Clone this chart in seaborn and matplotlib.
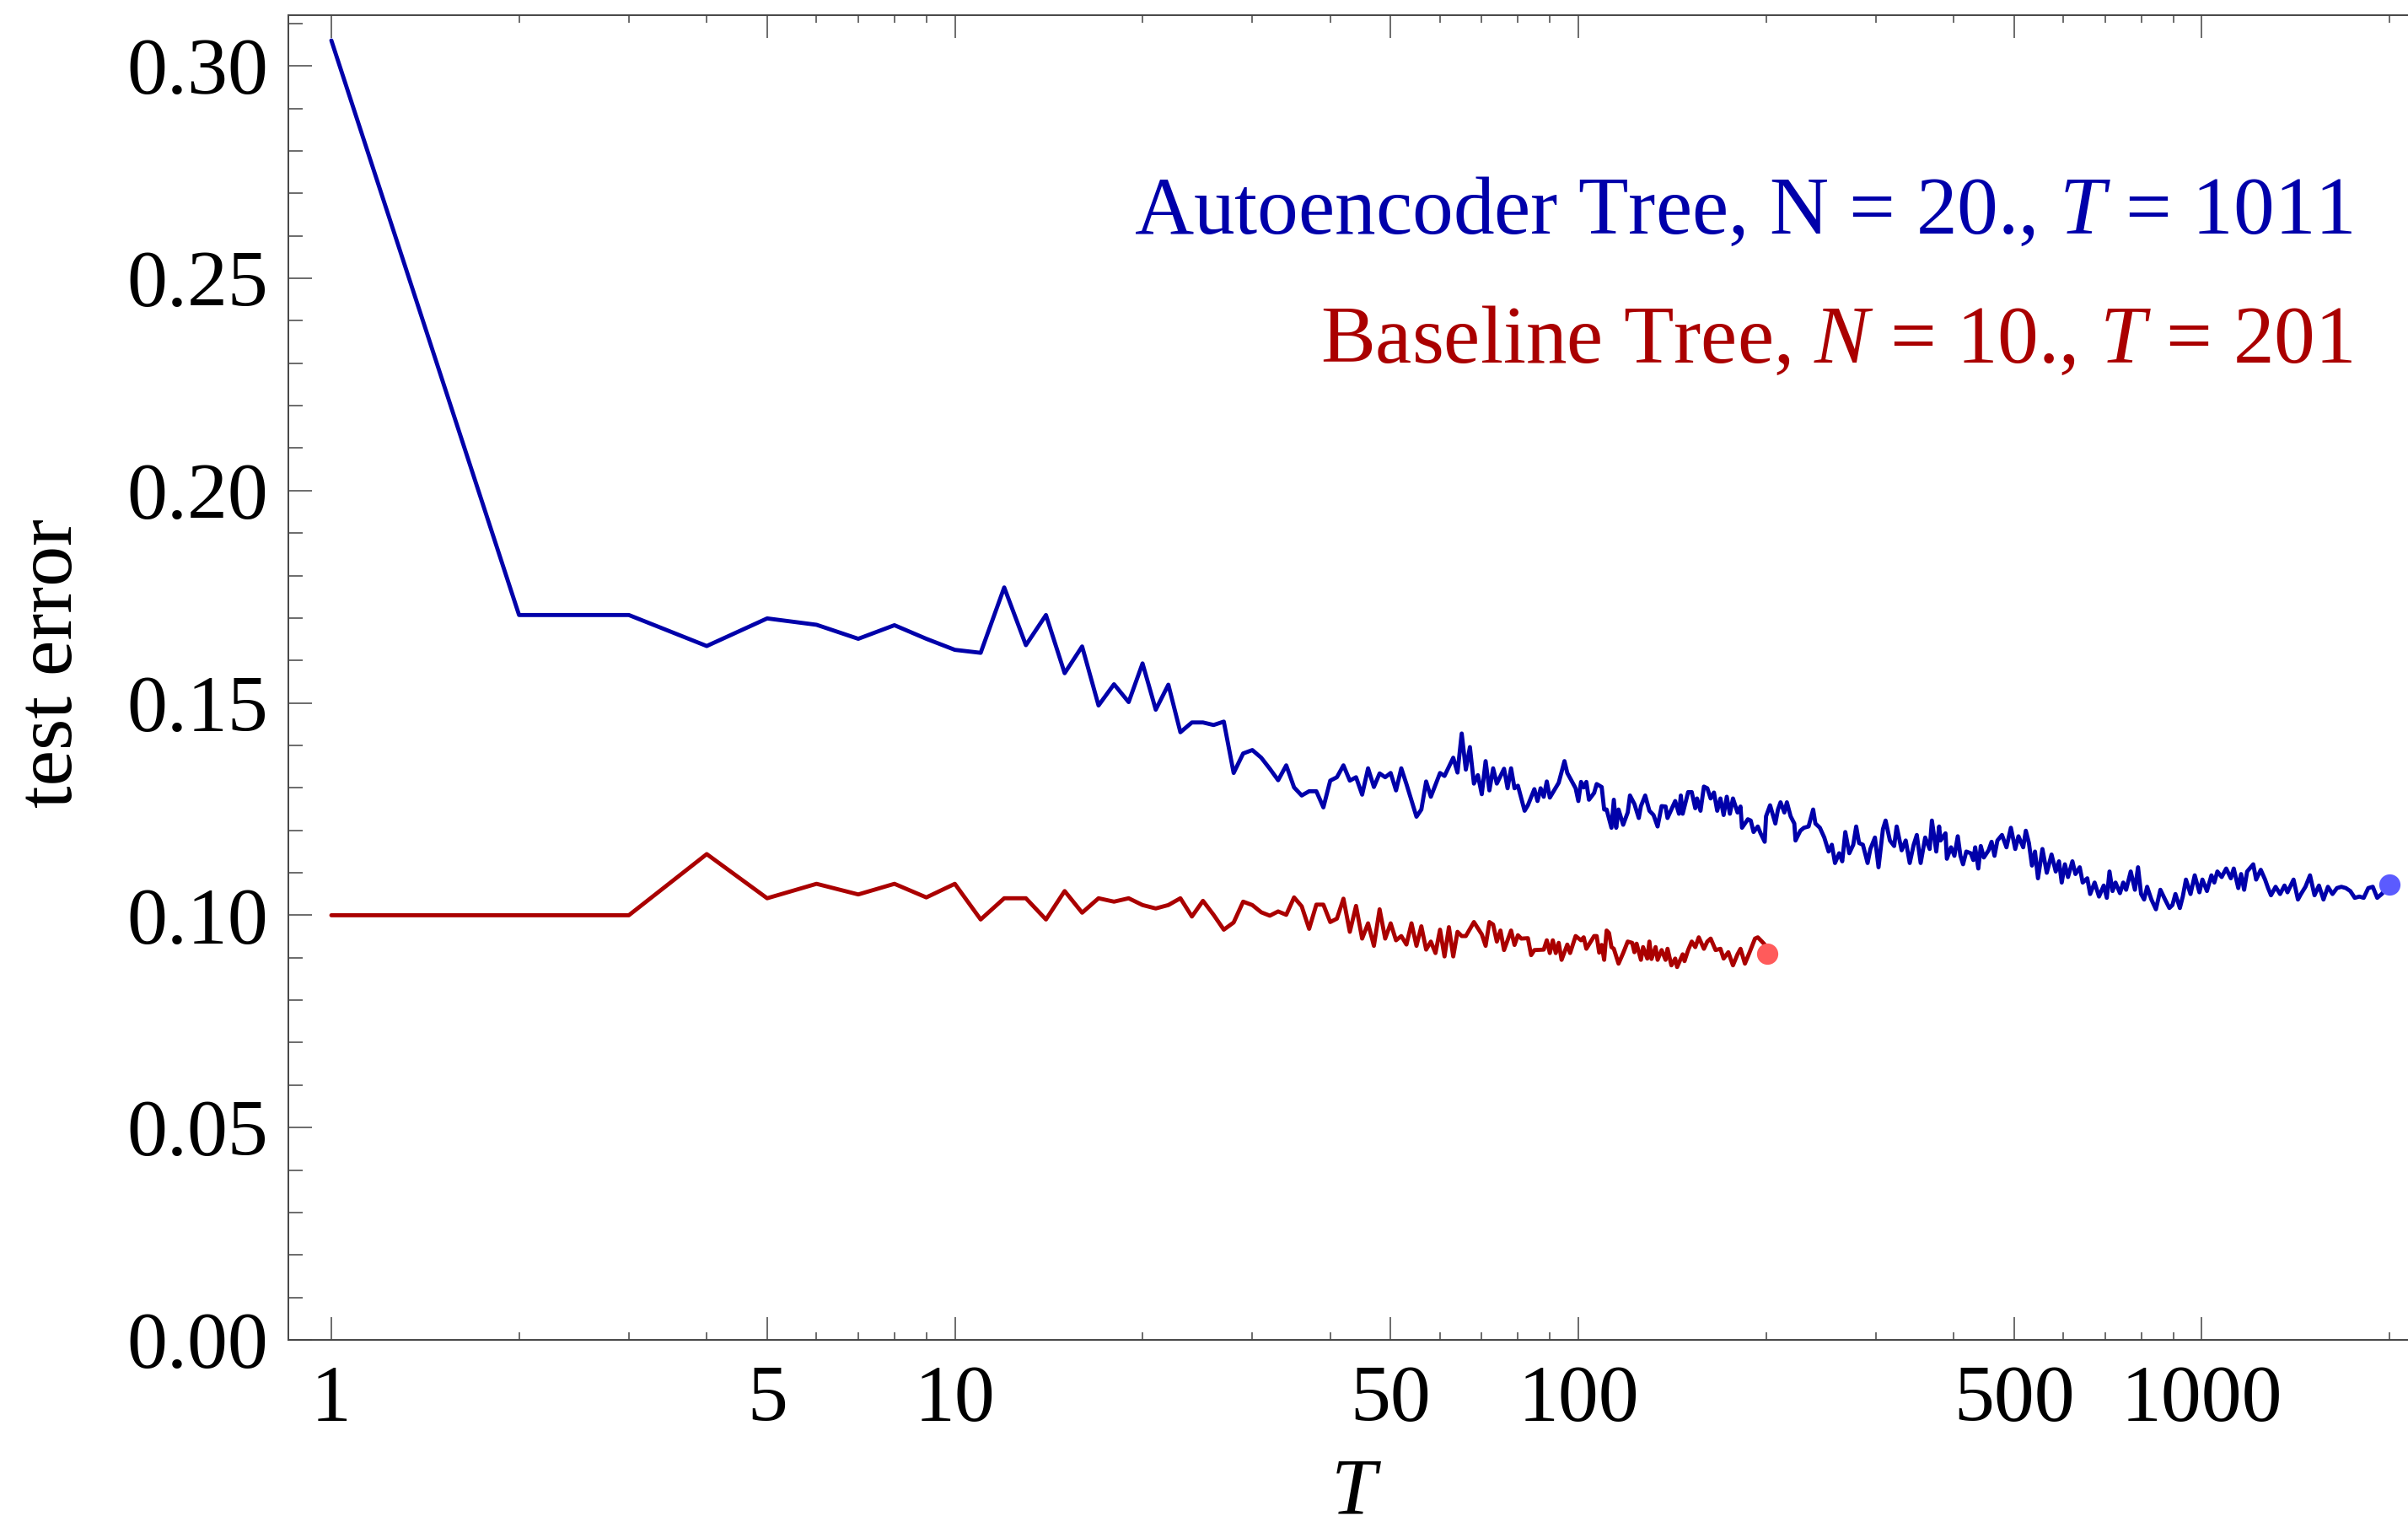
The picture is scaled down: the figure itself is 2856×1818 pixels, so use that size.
import numpy as np
import pandas as pd
import matplotlib
matplotlib.use("Agg")
import matplotlib.pyplot as plt
from matplotlib.ticker import FixedLocator, FixedFormatter
import seaborn as sns

# ---- data -------------------------------------------------------------
auto_T = [1, 2, 3, 4, 5, 6, 7, 8, 9, 10, 11, 12, 13, 14, 15, 16, 17, 18, 19, 20,
          21, 22, 23, 24, 25, 26, 27, 28, 29, 30, 31, 32, 33, 34, 35, 36, 37, 38, 39, 40,
          41, 42, 43, 44, 45, 46, 47, 48, 49, 50, 51, 52, 53, 55, 56, 57, 58, 60, 61, 63,
          64, 65, 66, 67, 68, 69, 70, 71, 72, 73, 74, 76, 77, 78, 79, 80, 82, 83, 85, 86,
          87, 88, 89, 90, 93, 95, 96, 99, 100, 101, 102, 103, 104, 106, 107, 109, 110,
          111, 113, 114, 115, 116, 118, 120, 121, 123, 125, 126, 128, 130, 132, 134, 136,
          138, 139, 141, 143, 145, 146, 147, 150, 152, 154, 155, 157, 159, 161, 163, 165,
          167, 169, 171, 173, 175, 177, 180, 182, 183, 187, 189, 191, 194, 196, 199, 200,
          203, 207, 209, 211, 214, 216, 219, 222, 223, 227, 230, 234, 238, 240, 244, 248,
          252, 255, 258, 262, 265, 268, 272, 276, 279, 282, 286, 291, 294, 299, 303, 308,
          311, 316, 321, 324, 330, 335, 340, 345, 349, 354, 360, 366, 369, 375, 379,
          381, 388, 390, 396, 401, 406, 410, 414, 419, 426, 430, 433, 438, 442, 447, 455,
          460, 465, 470, 478, 486, 494, 502, 508, 517, 522, 528, 534, 540, 546, 555, 564,
          574, 583, 590, 596, 603, 610, 620, 627, 637, 644, 655, 662, 673, 684, 696, 704,
          711, 719, 727, 739, 748, 756, 769, 781, 790, 799, 808, 817, 830, 844, 858, 873,
          887, 897, 907, 922, 932, 943, 959, 974, 991, 1002, 1019, 1036, 1047, 1059, 1076,
          1094, 1113, 1125, 1144, 1156, 1169, 1182, 1209, 1222, 1243, 1263, 1277, 1291,
          1313, 1335, 1357, 1372, 1403, 1426, 1442, 1466, 1491, 1516, 1541, 1567, 1593,
          1620, 1647, 1674, 1702, 1730, 1759, 1789, 1818, 1849, 1880, 1911, 1943, 2000]
auto_err = [0.3060, 0.1707, 0.1707, 0.1634, 0.1699, 0.1684, 0.1651, 0.1683, 0.1651, 0.1625,
            0.1618, 0.1772, 0.1636, 0.1707, 0.1570, 0.1633, 0.1494, 0.1544, 0.1502, 0.1593,
            0.1484, 0.1543, 0.1431, 0.1454, 0.1454, 0.1448, 0.1456, 0.1335, 0.1381, 0.1389,
            0.1371, 0.1345, 0.1318, 0.1353, 0.1301, 0.1282, 0.1292, 0.1292, 0.1254, 0.1317,
            0.1325, 0.1353, 0.1317, 0.1325, 0.1284, 0.1346, 0.1302, 0.1334, 0.1325, 0.1335,
            0.1294, 0.1346, 0.1309, 0.1232, 0.1249, 0.1315, 0.1279, 0.1335, 0.1328, 0.1371,
            0.1336, 0.1428, 0.1343, 0.1396, 0.1310, 0.1330, 0.1285, 0.1363, 0.1294, 0.1346,
            0.1310, 0.1345, 0.1299, 0.1346, 0.1299, 0.1305, 0.1246, 0.1259, 0.1297, 0.1269,
            0.1299, 0.1279, 0.1315, 0.1277, 0.1312, 0.1363, 0.1335, 0.1299, 0.1269, 0.1314,
            0.1301, 0.1314, 0.1272, 0.1288, 0.1309, 0.1302, 0.1249,
            0.1249, 0.1206, 0.1272, 0.1206, 0.1249, 0.1213, 0.1242, 0.1282, 0.1262, 0.1229,
            0.1257, 0.1282, 0.1246, 0.1236, 0.1209, 0.1257, 0.1256, 0.1229, 0.1249, 0.1269,
            0.1239, 0.1282, 0.1239, 0.1290, 0.1290, 0.1252, 0.1275, 0.1246, 0.1303, 0.1299,
            0.1275, 0.1289, 0.1246, 0.1275, 0.1236, 0.1279, 0.1239, 0.1275, 0.1242, 0.1256,
            0.1206, 0.1226, 0.1223, 0.1196, 0.1209, 0.1193, 0.1173, 0.1233, 0.1259, 0.1216,
            0.1249, 0.1266, 0.1242, 0.1266, 0.1233, 0.1216, 0.1176, 0.1199, 0.1206, 0.1209,
            0.1249, 0.1216, 0.1206, 0.1183, 0.1150, 0.1166, 0.1123, 0.1146, 0.1127, 0.1196,
            0.1146, 0.1166, 0.1209, 0.1170, 0.1166, 0.1123, 0.1156, 0.1183, 0.1113, 0.1203,
            0.1223, 0.1176, 0.1163, 0.1209, 0.1153, 0.1176, 0.1123, 0.1166, 0.1189, 0.1123,
            0.1183, 0.1156, 0.1223, 0.1150, 0.1209,
            0.1176, 0.1193, 0.1133, 0.1160, 0.1140, 0.1186, 0.1140, 0.1120, 0.1150, 0.1146,
            0.1130, 0.1160, 0.1110, 0.1163, 0.1136, 0.1153, 0.1173, 0.1140, 0.1176, 0.1189,
            0.1160, 0.1206, 0.1156, 0.1186, 0.1160, 0.1199, 0.1170, 0.1117, 0.1150, 0.1087,
            0.1156, 0.1100, 0.1143, 0.1103, 0.1127, 0.1077, 0.1120, 0.1090, 0.1127, 0.1097,
            0.1113, 0.1077, 0.1087, 0.1050, 0.1077, 0.1044, 0.1070, 0.1041, 0.1103, 0.1057,
            0.1077, 0.1052, 0.1077, 0.1060, 0.1103, 0.1060, 0.1113, 0.1050, 0.1037, 0.1067,
            0.1037, 0.1014, 0.1060, 0.1037, 0.1017, 0.1024, 0.1050, 0.1017, 0.1044, 0.1084,
            0.1050, 0.1094, 0.1054, 0.1084, 0.1057, 0.1094, 0.1077, 0.1103, 0.1090, 0.1110,
            0.1087, 0.1110, 0.1064, 0.1097, 0.1060, 0.1103, 0.1120, 0.1084, 0.1107, 0.1084,
            0.1064, 0.1047, 0.1067, 0.1050, 0.1070, 0.1054, 0.1084, 0.1037, 0.1050, 0.1067,
            0.1094, 0.1047, 0.1070, 0.1037, 0.1067, 0.1050, 0.1064, 0.1067, 0.1064, 0.1057,
            0.1041, 0.1044, 0.1041, 0.1064, 0.1067, 0.1041, 0.1050, 0.1072]

base_T = [1, 2, 3, 4, 5, 6, 7, 8, 9, 10, 11, 12, 13, 14, 15, 16, 17, 18, 19, 20,
          21, 22, 23, 24, 25, 26, 27, 28, 29, 30, 31, 32, 33, 34, 35, 36, 37, 38, 39, 40,
          41, 42, 43, 44, 45, 46, 47, 48, 49, 50, 51, 52, 53, 54, 55, 56, 57, 58, 59, 60,
          61, 62, 63, 64, 65, 66, 68, 70, 71, 72, 73, 74, 75, 76, 78, 79, 80, 81, 83, 84,
          85, 88, 89, 90, 91, 92, 93, 94, 96, 97, 99, 101, 102, 103, 106, 107, 108, 109,
          110, 111, 112, 113, 114, 116, 118, 120, 122, 123, 124, 126, 127, 129, 130, 131,
          133, 134, 136, 138, 139, 141, 143, 144, 147, 148, 150, 152, 154, 156, 159, 161,
          163, 166, 169, 171, 174, 177, 180, 182, 185, 188, 192, 194, 197, 199, 201]
base_err = [0.1000, 0.1000, 0.1000, 0.1144, 0.1040, 0.1074, 0.1049, 0.1074, 0.1042, 0.1074,
            0.0990, 0.1040, 0.1040, 0.0990, 0.1057, 0.1006, 0.1040, 0.1032, 0.1040, 0.1024,
            0.1016, 0.1024, 0.1040, 0.0997, 0.1034, 0.1001, 0.0966, 0.0983, 0.1032, 0.1024,
            0.1007, 0.0999, 0.1009, 0.1001, 0.1042, 0.1021, 0.0968, 0.1025, 0.1025, 0.0984,
            0.0992, 0.1039, 0.0961, 0.1022, 0.0945, 0.0981, 0.0928, 0.1014, 0.0945, 0.0981,
            0.0941, 0.0951, 0.0931, 0.0981, 0.0928, 0.0974, 0.0919, 0.0938, 0.0911, 0.0966,
            0.0903, 0.0972, 0.0903, 0.0961, 0.0951, 0.0951, 0.0984, 0.0955, 0.0928, 0.0984,
            0.0978, 0.0938, 0.0964, 0.0918, 0.0964, 0.0930, 0.0953, 0.0945, 0.0946, 0.0906,
            0.0918, 0.0919, 0.0941, 0.0911, 0.0941, 0.0911, 0.0935, 0.0895, 0.0931, 0.0911,
            0.0951, 0.0941, 0.0948, 0.0921, 0.0951, 0.0951, 0.0912, 0.0930,
            0.0895, 0.0964, 0.0958, 0.0925, 0.0921, 0.0886, 0.0911, 0.0938, 0.0935, 0.0913,
            0.0933, 0.0895, 0.0925, 0.0898, 0.0938, 0.0897, 0.0925, 0.0895, 0.0918, 0.0895,
            0.0921, 0.0882, 0.0898, 0.0878, 0.0908, 0.0892, 0.0918, 0.0938, 0.0925, 0.0948,
            0.0921, 0.0938, 0.0945, 0.0918, 0.0921, 0.0898, 0.0913, 0.0882, 0.0908, 0.0921,
            0.0886, 0.0911, 0.0945, 0.0948, 0.0938, 0.0931, 0.0909]

x_major = [1, 5, 10, 50, 100, 500, 1000]
x_major_labels = ["1", "5", "10", "50", "100", "500", "1000"]
x_minor = [2, 3, 4, 6, 7, 8, 9, 20, 30, 40, 60, 70, 80, 90,
           200, 300, 400, 600, 700, 800, 900, 2000]
y_major = [0.00, 0.05, 0.10, 0.15, 0.20, 0.25, 0.30]
y_major_labels = ["0.00", "0.05", "0.10", "0.15", "0.20", "0.25", "0.30"]
y_minor = [round(0.01 * i, 2) for i in range(0, 32) if i % 5 != 0]

auto_label = r"Autoencoder Tree, N = 20., $T$ = 1011"
base_label = r"Baseline Tree, $N$ = 10., $T$ = 201"

AUTO_COLOR = "#0000AA"
BASE_COLOR = "#AA0000"
AUTO_DOT = "#5B5BFF"
BASE_DOT = "#FF5B5B"

# ---- style ------------------------------------------------------------
sns.set_style("white")
plt.rcParams["font.family"] = ["Liberation Serif", "DejaVu Serif"]
plt.rcParams["mathtext.fontset"] = "custom"
plt.rcParams["mathtext.rm"] = "Liberation Serif"
plt.rcParams["mathtext.it"] = "Liberation Serif:italic"
plt.rcParams["text.color"] = "black"

FS = 69
W, H = 2856, 1818
fig = plt.figure(figsize=(W / 100, H / 100), dpi=100)
ax = fig.add_axes([342 / W, 1 - 1589 / H, 1 - 342 / W, (1589 - 18) / H])

auto_df = pd.DataFrame({"T": auto_T, "err": auto_err})
base_df = pd.DataFrame({"T": base_T, "err": base_err})

sns.lineplot(data=auto_df, x="T", y="err", ax=ax, color=AUTO_COLOR,
             linewidth=3.5, estimator=None, sort=False)
sns.lineplot(data=base_df, x="T", y="err", ax=ax, color=BASE_COLOR,
             linewidth=3.5, estimator=None, sort=False)

# highlighted end points
sns.scatterplot(x=[auto_T[-1]], y=[auto_err[-1]], ax=ax, color=AUTO_DOT,
                s=330, linewidth=0, zorder=5)
sns.scatterplot(x=[base_T[-1]], y=[base_err[-1]], ax=ax, color=BASE_DOT,
                s=330, linewidth=0, zorder=5)

ax.set_xscale("log")
ax.set_xlim(10 ** (-51 / 739.5), 10 ** ((W - 393) / 739.5))
ax.set_ylim(0.0, (1589 - 18) / 5036)

ax.xaxis.set_major_locator(FixedLocator(x_major))
ax.xaxis.set_major_formatter(FixedFormatter(x_major_labels))
ax.xaxis.set_minor_locator(FixedLocator(x_minor))
ax.xaxis.set_minor_formatter(FixedFormatter([""] * len(x_minor)))
ax.yaxis.set_major_locator(FixedLocator(y_major))
ax.yaxis.set_major_formatter(FixedFormatter(y_major_labels))
ax.yaxis.set_minor_locator(FixedLocator(y_minor))

frame_color = "#444444"
for side in ["left", "bottom", "top"]:
    ax.spines[side].set_color(frame_color)
    ax.spines[side].set_linewidth(1.4)
ax.spines["right"].set_visible(False)

ax.tick_params(axis="x", which="major", direction="in", length=19.5, width=1.1,
               color=frame_color, labelcolor="black", top=True, bottom=True,
               labelsize=FS, pad=21)
ax.tick_params(axis="x", which="minor", direction="in", length=6.8, width=1.1,
               color=frame_color, top=True, bottom=True)
ax.tick_params(axis="y", which="major", direction="in", length=20, width=1.1,
               color=frame_color, labelcolor="black", left=True, right=False,
               labelsize=FS, pad=17)
ax.tick_params(axis="y", which="minor", direction="in", length=12.2, width=1.1,
               color=frame_color, left=True, right=False)

ax.set_xlabel("")
ax.set_ylabel("")
fig.text(62 / W, 1 - 787 / H, "test error", rotation=90, ha="center",
         va="center", fontsize=FS, color="black")
fig.text(1608 / W, 2 / H, r"$T$", ha="center", va="bottom",
         fontsize=FS, color="black")

fig.text(2790 / W, 1 - 277 / H, auto_label, ha="right", va="baseline",
         fontsize=70, color=AUTO_COLOR)
fig.text(2790 / W, 1 - 430 / H, base_label, ha="right", va="baseline",
         fontsize=70, color=BASE_COLOR)

fig.savefig("out.png", dpi=100)
